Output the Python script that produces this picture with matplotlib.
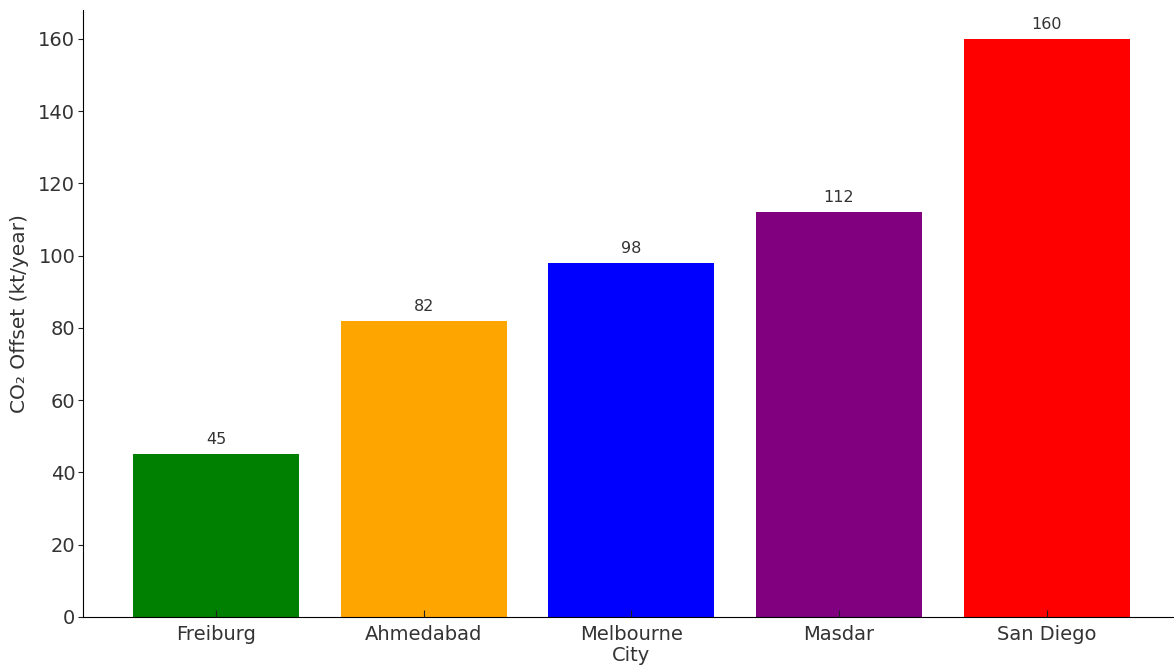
import matplotlib
matplotlib.use("Agg")
import matplotlib.pyplot as plt

cities = ["Freiburg", "Ahmedabad", "Melbourne", "Masdar", "San Diego"]
offsets = [45, 82, 98, 112, 160]
colors = ["green", "orange", "blue", "purple", "red"]

fig = plt.figure(figsize=(11.74, 6.67), dpi=100)
ax = fig.add_axes([0.0707, 0.075, 0.934, 0.91])
bars = ax.bar(cities, offsets, color=colors, width=0.8)
for b, v in zip(bars, offsets):
    ax.annotate(f"{v}", (b.get_x() + b.get_width() / 2, v), xytext=(0, 5),
                textcoords="offset points", ha="center", va="bottom",
                fontsize=11.5, color="#333333")
ax.set_xlim(-0.64, 4.64)
ax.set_ylim(0, 168)
ax.spines["top"].set_visible(False)
ax.spines["right"].set_visible(False)
ax.tick_params(axis="both", labelsize=14, colors="#222222", labelcolor="#333333")
ax.tick_params(axis="x", direction="in", length=5, pad=6)
ax.tick_params(axis="y", length=3.5, pad=2)
ax.set_xlabel("City", fontsize=14, color="#333333", labelpad=1)
ax.set_ylabel("CO₂ Offset (kt/year)", fontsize=14.5, color="#333333", labelpad=7)
fig.savefig("out.png", dpi=100)
